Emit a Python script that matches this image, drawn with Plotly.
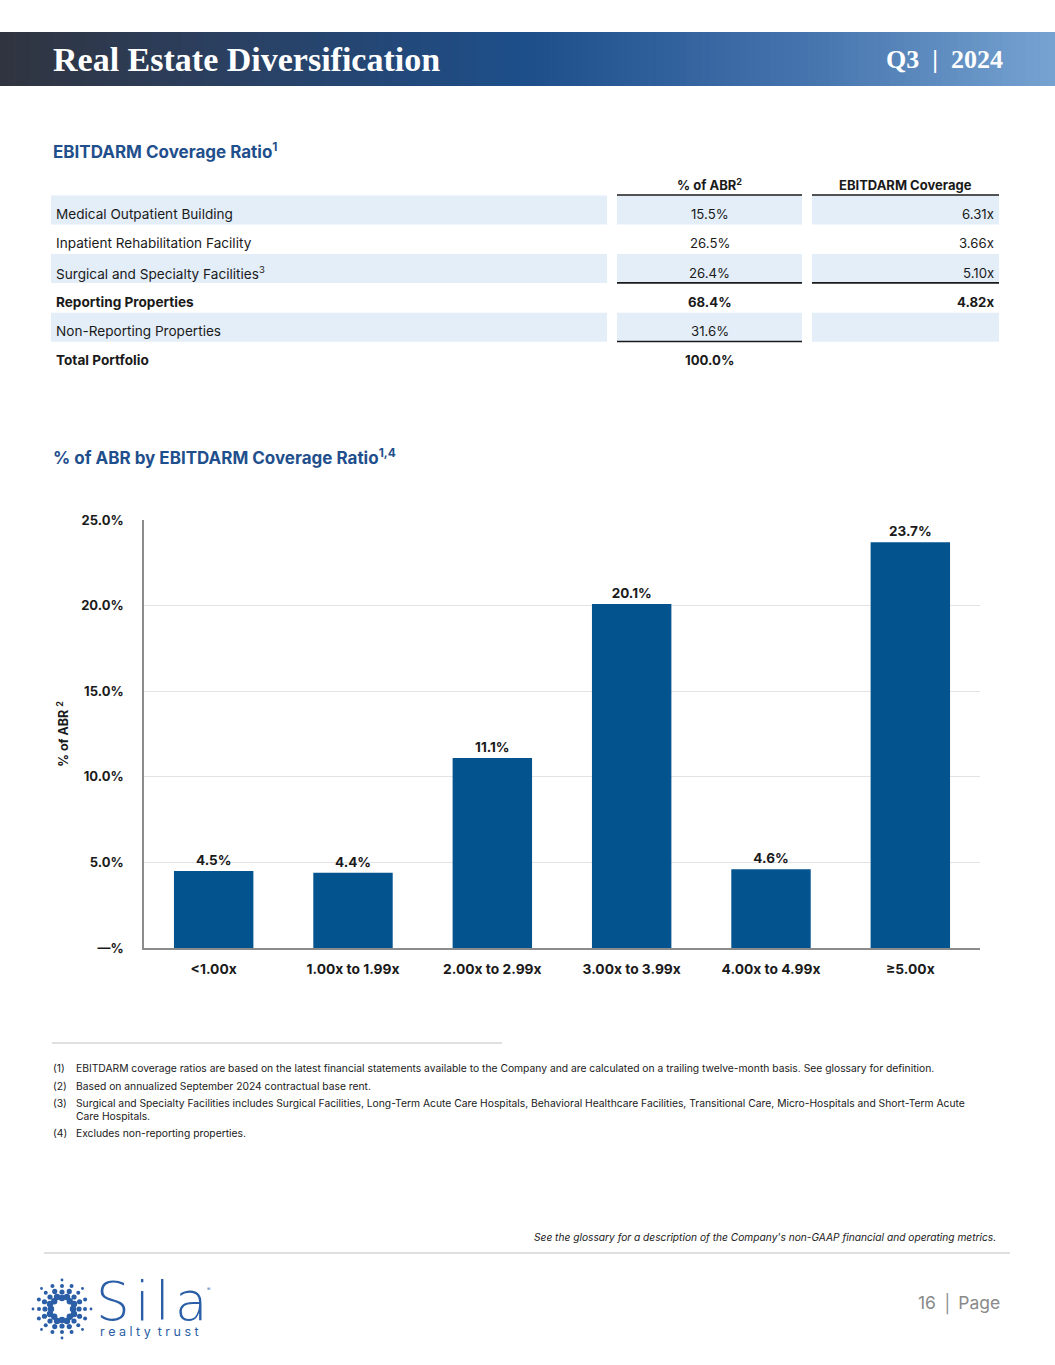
import math
import plotly.graph_objects as go

W, H = 1055, 1365

# ---------------- data ----------------
categories = ["<1.00x", "1.00x to 1.99x", "2.00x to 2.99x", "3.00x to 3.99x", "4.00x to 4.99x", "≥5.00x"]
abr_pct = [4.5, 4.4, 11.1, 20.1, 4.6, 23.7]
y_ticks = [0, 5, 10, 15, 20, 25]
y_tick_labels = ["—%", "5.0%", "10.0%", "15.0%", "20.0%", "25.0%"]

table_labels = ["Medical Outpatient Building", "Inpatient Rehabilitation Facility",
                "Surgical and Specialty Facilities<sup>3</sup>", "Reporting Properties",
                "Non-Reporting Properties", "Total Portfolio"]
table_abr = ["15.5%", "26.5%", "26.4%", "68.4%", "31.6%", "100.0%"]
table_cov = ["6.31x", "3.66x", "5.10x", "4.82x", "", ""]
table_bold = [False, False, False, True, False, True]
table_band = [True, False, True, False, True, False]

footnote_nums = ["(1)", "(2)", "(3)", "(4)"]
footnote_texts = [
    "EBITDARM coverage ratios are based on the latest financial statements available to the Company and are calculated on a trailing twelve-month basis. See glossary for definition.",
    "Based on annualized September 2024 contractual base rent.",
    "Surgical and Specialty Facilities includes Surgical Facilities, Long-Term Acute Care Hospitals, Behavioral Healthcare Facilities, Transitional Care, Micro-Hospitals and Short-Term Acute<br>Care Hospitals.",
    "Excludes non-reporting properties.",
]

FONT = "Inter"
BLUE_T = "#1f4f8c"
BAR = "#03538f"
BAND = "#e3eef9"
TXT = "#1a1a1a"


def px(x):
    return x / W


def py(y):
    return 1 - y / H


shapes = []
ann = []


def text(x, y, s, size, color=TXT, xa="left", ya="middle", family=FONT, **kw):
    font = dict(family=family, size=size, color=color)
    font.update(kw.pop("font_extra", {}))
    ann.append(dict(x=px(x), y=py(y), xref="paper", yref="paper", text=s, showarrow=False,
                    xanchor=xa, yanchor=ya, align="left", borderpad=0, font=font, **kw))


# ---------------- header gradient ----------------
stops = [(0.0, (48, 52, 63)), (0.18, (44, 62, 92)), (0.5, (29, 79, 139)), (0.78, (72, 118, 175)), (1.0, (118, 163, 209))]


def grad(t):
    for (t0, c0), (t1, c1) in zip(stops[:-1], stops[1:]):
        if t0 <= t <= t1:
            f = (t - t0) / (t1 - t0)
            return "rgb(%d,%d,%d)" % tuple(round(a + (b - a) * f) for a, b in zip(c0, c1))
    return "rgb(%d,%d,%d)" % stops[-1][1]


N = 140
for i in range(N):
    x0 = i * W / N
    x1 = (i + 1) * W / N + 0.8
    shapes.append(dict(type="rect", xref="paper", yref="paper", x0=px(x0), x1=px(x1),
                       y0=py(86), y1=py(32), fillcolor=grad((i + 0.5) / N), line_width=0, layer="below"))

text(52, 60, "<b>Real Estate Diversification</b>", 34, "white", family="Liberation Serif")
text(1004, 60, "<b>Q3  |  2024</b>", 26, "white", xa="right", family="Liberation Serif")

# ---------------- table ----------------
text(52, 150, "<b>EBITDARM Coverage Ratio<sup>1</sup></b>", 17, BLUE_T)

C1 = (51, 607)
C2 = (617, 802)
C3 = (812, 999)
text((C2[0] + C2[1]) / 2, 185, "<b>% of ABR<sup>2</sup></b>", 13, xa="center")
text((C3[0] + C3[1]) / 2, 185, "<b>EBITDARM Coverage</b>", 13, xa="center")


def hline(y, xr, color="#1a1a1a", w=1.6):
    shapes.append(dict(type="line", xref="paper", yref="paper", x0=px(xr[0]), x1=px(xr[1]),
                       y0=py(y), y1=py(y), line=dict(color=color, width=w)))


ROW_H = 29.3
TOP0 = 195.5
for i, (lab, a, c, b, band) in enumerate(zip(table_labels, table_abr, table_cov, table_bold, table_band)):
    top = TOP0 + i * ROW_H
    ty = top + 18.5
    if band:
        for cx in (C1, C2, C3):
            shapes.append(dict(type="rect", xref="paper", yref="paper", x0=px(cx[0]), x1=px(cx[1]),
                               y0=py(top + 29), y1=py(top), fillcolor=BAND, line_width=0, layer="below"))
    wrap = (lambda s: "<b>%s</b>" % s if b and s else s)
    text(55, ty, wrap(lab), 13.6)
    text((C2[0] + C2[1]) / 2, ty, wrap(a), 13.2, xa="center")
    if c:
        text(995, ty, wrap(c), 13.2, xa="right")

hline(TOP0 - 0.5, C2)
hline(TOP0 - 0.5, C3)
hline(TOP0 + 3 * ROW_H - 0.5, C2)
hline(TOP0 + 3 * ROW_H - 0.5, C3)
hline(TOP0 + 5 * ROW_H - 0.5, C2)

# ---------------- chart ----------------
text(52, 457, "<b>% of ABR by EBITDARM Coverage Ratio<sup>1,4</sup></b>", 17, BLUE_T)

fig = go.Figure()
fig.add_trace(go.Bar(
    x=categories, y=abr_pct, marker=dict(color=BAR, line_width=0),
    text=["<b>%.1f%%</b>" % v for v in abr_pct], textposition="outside", cliponaxis=False,
    textfont=dict(family=FONT, size=13.5, color=TXT), hoverinfo="skip",
))

# ---------------- footnotes ----------------
hline(1043, (52, 502), color="#d6d6d6", w=1.5)
FN = 10.3
fn_y = [1068, 1086, 1103, 1133]
for num, txt, y in zip(footnote_nums, footnote_texts, fn_y):
    if "<br>" in txt:
        text(52, y - 7, num, FN, ya="top")
        text(75, y - 7, txt, FN, ya="top")
    else:
        text(52, y, num, FN)
        text(75, y, txt, FN)

text(997, 1237, "<i>See the glossary for a description of the Company's non-GAAP financial and operating metrics.</i>",
     10.2, xa="right")
hline(1253, (44, 1010), color="#d4d4d4", w=1.5)

text(1001, 1303, "16 │ Page", 17.5, "#8a8a8a", xa="right")

# ---------------- logo ----------------
LOGO = "#2a5ea6"
cx0, cy0 = 62, 1309
for k in range(16):
    ang = 2 * math.pi * k / 16
    for r, s in [(11, 3.2), (17, 2.6), (23, 2.0), (29, 1.4)]:
        rr = r + (2 if k % 2 else 0)
        if k % 2 and r == 29:
            continue
        xx = cx0 + rr * math.cos(ang)
        yy = cy0 + rr * math.sin(ang)
        shapes.append(dict(type="circle", xref="paper", yref="paper", x0=px(xx - s), x1=px(xx + s),
                           y0=py(yy + s), y1=py(yy - s), fillcolor=LOGO, line_width=0))
text(95, 1301, "S\u200ai\u200al\u200aa", 53, LOGO, family="DejaVu Sans", font_extra=dict(weight=200))
text(99, 1331, "r e a l t y  t r u s t", 12.5, LOGO)
text(206, 1289, "®", 5, LOGO)

fig.update_layout(
    width=W, height=H, margin=dict(l=0, r=0, t=0, b=0, autoexpand=False),
    paper_bgcolor="white", plot_bgcolor="white",
    showlegend=False, bargap=0.43,
    shapes=shapes, annotations=ann,
    font=dict(family=FONT, color=TXT),
    xaxis=dict(domain=[px(144), px(980)], showgrid=False, showline=True, linecolor="#8c8c8c", linewidth=1.5,
               ticks="", tickfont=dict(family=FONT, size=13.8, color=TXT), tickprefix="<b>", ticksuffix="</b>",
               ticklabelstandoff=8, tickangle=0, automargin=False, fixedrange=True),
    yaxis=dict(domain=[py(948), py(520)], range=[0, 25], tickvals=y_ticks,
               ticktext=["<b>%s</b>" % t for t in y_tick_labels], showgrid=True, gridcolor="#e3e3e3", gridwidth=1,
               showline=True, linecolor="#8c8c8c", linewidth=1.5, zeroline=False, ticks="",
               tickfont=dict(family=FONT, size=13, color=TXT), ticklabelstandoff=16, automargin=False,
               title=dict(text="<b>% of ABR <sup>2</sup></b>", font=dict(family=FONT, size=12.5, color=TXT), standoff=10),
               fixedrange=True),
)

fig.write_html("out.html", config={"displayModeBar": False},
               post_script="document.body.style.margin='0';document.body.style.overflow='hidden';")
